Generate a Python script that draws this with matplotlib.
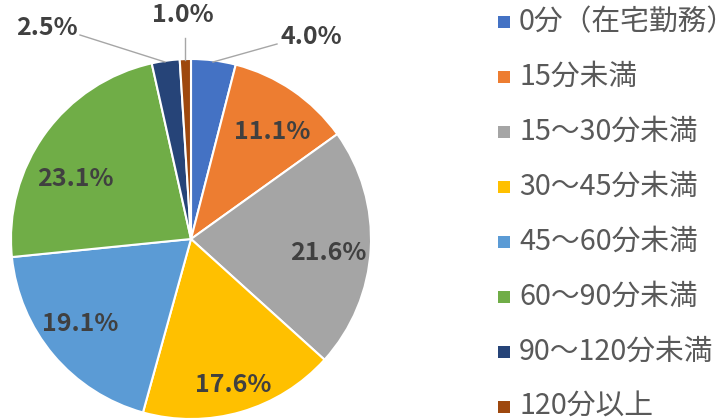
import matplotlib
matplotlib.use("Agg")
import matplotlib.pyplot as plt
from matplotlib.patches import Rectangle

categories = ["0分（在宅勤務）", "15分未満", "15～30分未満", "30～45分未満",
              "45～60分未満", "60～90分未満", "90～120分未満", "120分以上"]
values = [4.0, 11.1, 21.6, 17.6, 19.1, 23.1, 2.5, 1.0]
colors = ["#4472C4", "#ED7D31", "#A5A5A5", "#FFC000",
          "#5B9BD5", "#70AD47", "#264478", "#9E480E"]

W, H = 720, 418
fig = plt.figure(figsize=(7.2, 4.18), dpi=100)
ax = fig.add_axes([0, 0, 1, 1])
ax.set_xlim(0, W)
ax.set_ylim(0, H)
ax.set_aspect("equal")
ax.axis("off")

def py(y):
    return H - y

cx, cy, r = 191, 239, 180
wedges, _ = ax.pie(values, colors=colors, startangle=90, counterclock=False,
                   center=(cx, py(cy)), radius=r, normalize=True,
                   wedgeprops=dict(edgecolor="white", linewidth=1.5))
ax.set_xlim(0, W)
ax.set_ylim(0, H)

lab_font = dict(family=["Noto Sans CJK JP", "DejaVu Sans"], fontsize=18,
                fontweight="bold", color="#404040", ha="center", va="center")

# inside labels (pixel positions of text)
inside_pos = {1: (272, 132), 2: (328, 253), 3: (233, 385), 4: (80, 324), 5: (75, 179)}
for i, (x, y) in inside_pos.items():
    ax.text(x, py(y), f"{values[i]:.1f}%", **lab_font)

# outside labels with leader lines
outside = {0: ((311, 37), (277, 44), (213, 62)),
           6: ((47, 28), (80, 35), (165, 62)),
           7: ((183, 15), (185, 38), (185, 60))}
for i, (tpos, l0, l1) in outside.items():
    ax.plot([l0[0], l1[0]], [py(l0[1]), py(l1[1])], color="#A6A6A6", lw=1)
    ax.text(tpos[0], py(tpos[1]), f"{values[i]:.1f}%", **lab_font)

# legend
for i, (lab, c) in enumerate(zip(categories, colors)):
    yc = 22 + 55 * i
    ax.add_patch(Rectangle((498, py(yc) - 6), 12, 12, facecolor=c, edgecolor="none"))
    ax.text(519, py(yc), lab, family=["Noto Sans CJK JP", "DejaVu Sans"],
            fontsize=20.7, color="#595959", ha="left", va="center", clip_on=False)

fig.savefig("out.png", dpi=100)
